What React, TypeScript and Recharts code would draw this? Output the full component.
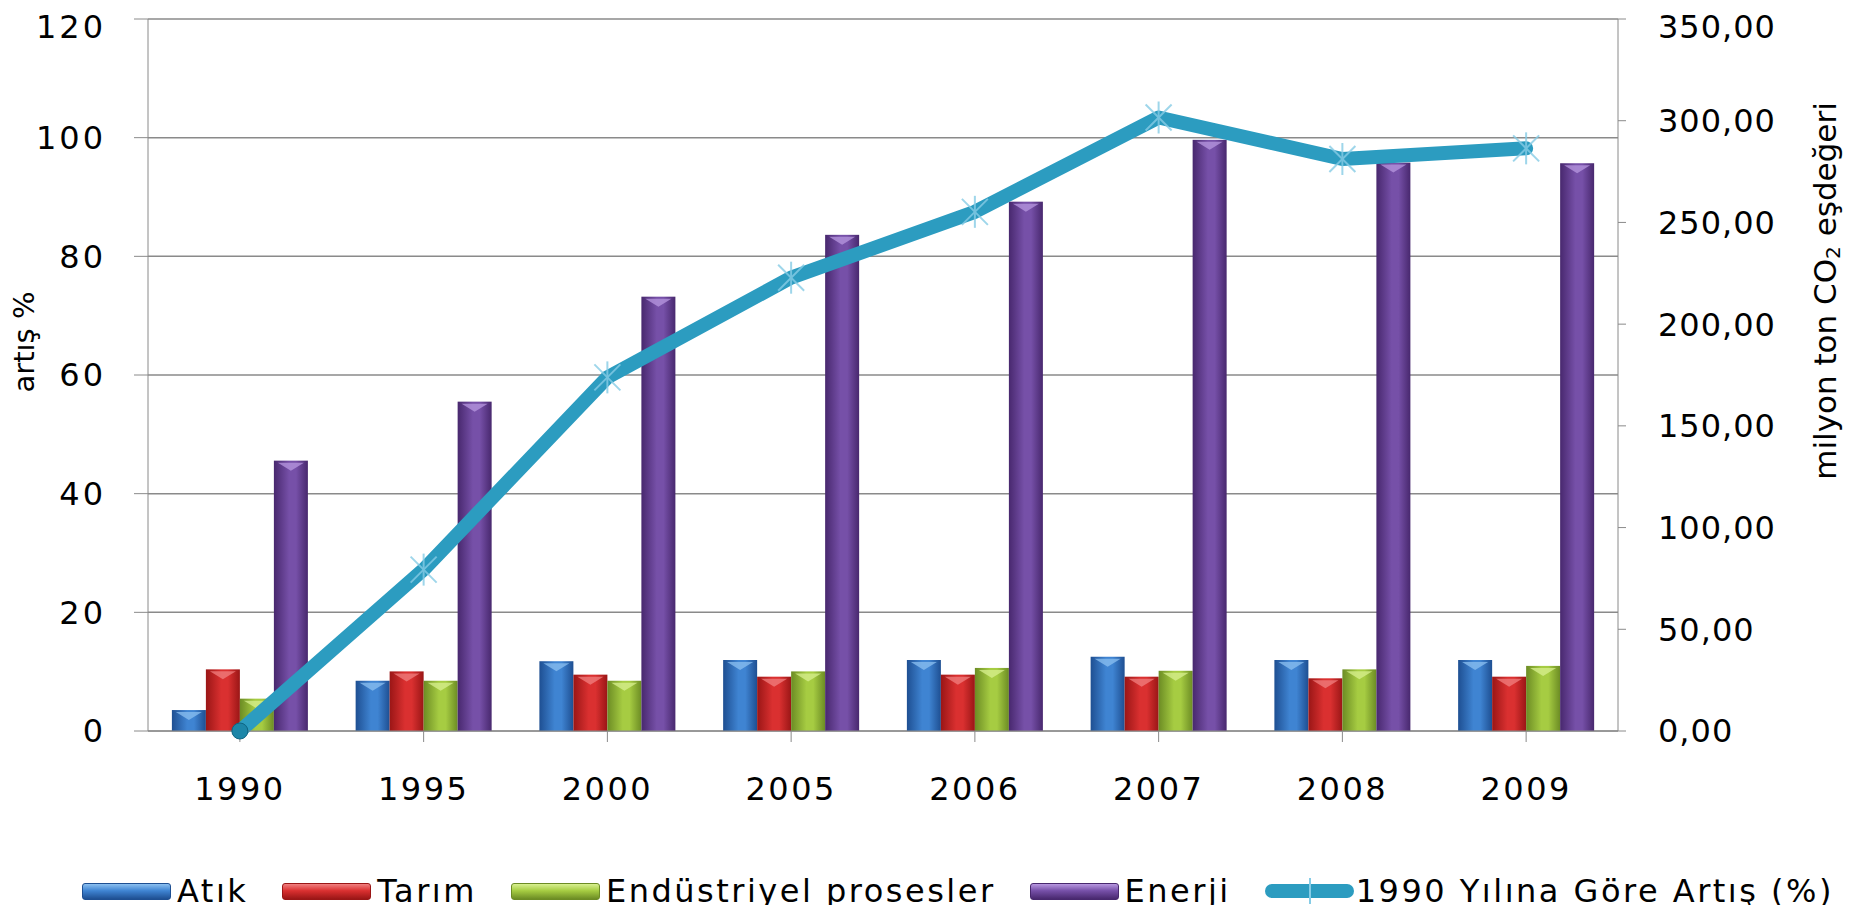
import React from "react";
import { ComposedChart, Bar, Line, XAxis, YAxis, CartesianGrid, Legend, Label } from "recharts";

const years = ["1990", "1995", "2000", "2005", "2006", "2007", "2008", "2009"];
const atik = [10.3, 24.7, 34.3, 34.9, 34.9, 36.5, 34.9, 34.9];
const tarim = [30.3, 29.3, 27.7, 26.7, 27.7, 26.7, 25.9, 26.7];
const endustriyel = [15.9, 24.7, 24.7, 29.3, 31.0, 29.6, 30.3, 32.0];
const enerji = [132.9, 161.9, 213.5, 243.9, 260.2, 290.6, 279.4, 279.1];
const artis = [0, 27.2, 59.6, 76.4, 87.5, 103.4, 96.4, 98.2];

const leftTicks = [0, 20, 40, 60, 80, 100, 120];
const rightTicks = [0, 50, 100, 150, 200, 250, 300, 350];

const legendOrder = ["atik", "tarim", "endustriyel", "enerji", "artis"];

const data = years.map((year, i) => ({
  year,
  atik: atik[i],
  tarim: tarim[i],
  endustriyel: endustriyel[i],
  enerji: enerji[i],
  artis: artis[i],
}));

const FONT = "'DejaVu Sans', sans-serif";
const LINE_COLOR = "#2C9CC0";

// edge, center, highlight
const barColors: Record<string, [string, string, string]> = {
  atik: ["#1E4F92", "#3F84D2", "#8CC0F0"],
  tarim: ["#9A1616", "#DA3030", "#F08080"],
  endustriyel: ["#6C8C24", "#A6CC42", "#D8F090"],
  enerji: ["#48286E", "#7650A8", "#B898E0"],
};

const tickStyle = { fontFamily: FONT, fontSize: 32, fill: "#000" };

const BarShape = (props: any) => {
  const { x, y, width, height, dataKey } = props;
  if (!height || height <= 0) return null;
  const c = barColors[dataKey];
  const bev = Math.min(10, height / 2);
  return (
    <g>
      <rect x={x} y={y} width={width} height={height} fill={`url(#grad-${dataKey})`} />
      <polygon
        points={`${x + 4},${y + 2} ${x + width - 4},${y + 2} ${x + width / 2},${y + bev}`}
        fill={c[2]}
        opacity={0.75}
      />
    </g>
  );
};

const LineDot = (props: any) => {
  const { cx, cy, index } = props;
  if (cx == null || cy == null) return <g key={`d-${index}`} />;
  if (index === 0) {
    return <circle key={`d-${index}`} cx={cx} cy={cy} r={8} fill="#1C86A8" stroke="#0E6582" strokeWidth={1} />;
  }
  const r = 13;
  return (
    <g key={`d-${index}`} stroke="#86CCE6" strokeWidth={2} opacity={0.8}>
      <line x1={cx - r} y1={cy - r} x2={cx + r} y2={cy + r} />
      <line x1={cx - r} y1={cy + r} x2={cx + r} y2={cy - r} />
      <line x1={cx} y1={cy - r - 3} x2={cx} y2={cy + r + 3} />
    </g>
  );
};

const LegendContent = (props: any) => {
  const items = [...(props.payload || [])].sort(
    (a: any, b: any) => legendOrder.indexOf(a.dataKey) - legendOrder.indexOf(b.dataKey)
  );
  return (
    <div
      style={{
        display: "flex",
        justifyContent: "center",
        alignItems: "center",
        height: 28,
        fontFamily: FONT,
        fontSize: 32,
        letterSpacing: 2.5,
        color: "#000",
        whiteSpace: "nowrap",
        marginLeft: 80,
      }}
    >
      {items.map((entry: any) => {
        const key = entry.dataKey as string;
        const c = barColors[key];
        const swatch = c ? (
          <div
            style={{
              width: 89,
              height: 17,
              borderRadius: 3,
              border: `1px solid ${c[0]}`,
              background: `linear-gradient(to bottom, ${c[2]} 0%, ${c[1]} 45%, ${c[0]} 100%)`,
              boxSizing: "border-box",
            }}
          />
        ) : (
          <div style={{ width: 89, height: 14, borderRadius: 7, background: LINE_COLOR, position: "relative" }}>
            <div style={{ position: "absolute", left: 44, top: -6, width: 2, height: 26, background: "#86CCE6" }} />
          </div>
        );
        return (
          <div key={key} style={{ display: "flex", alignItems: "center", marginRight: 34 }}>
            {swatch}
            <span style={{ marginLeft: c ? 6 : 2 }}>{entry.value}</span>
          </div>
        );
      })}
    </div>
  );
};

const LeftTitle = (props: any) => {
  const { viewBox } = props;
  const cx = viewBox.x + 11;
  const cy = 334;
  return (
    <text x={cx} y={cy} transform={`rotate(-90, ${cx}, ${cy})`} textAnchor="middle" dominantBaseline="central" fontFamily={FONT} fontSize={29} fill="#000">
      artış %
    </text>
  );
};

const RightTitle = (props: any) => {
  const { viewBox } = props;
  const cx = viewBox.x + 207;
  const cy = 283;
  return (
    <text x={cx} y={cy} transform={`rotate(-90, ${cx}, ${cy})`} textAnchor="middle" dominantBaseline="central" fontFamily={FONT} fontSize={31} fill="#000">
      milyon ton CO
      <tspan dy={8} fontSize={20}>2</tspan>
      <tspan dy={-8}> eşdeğeri</tspan>
    </text>
  );
};

export default function App() {
  return (
    <ComposedChart
      width={1854}
      height={897}
      data={data}
      margin={{ top: 11, right: 5, bottom: 0, left: 5 }}
      barCategoryGap="13%"
      barGap={0}
    >
      <defs>
        {Object.keys(barColors).map((k) => (
          <linearGradient key={k} id={`grad-${k}`} x1="0" y1="0" x2="1" y2="0">
            <stop offset="0%" stopColor={barColors[k][0]} />
            <stop offset="45%" stopColor={barColors[k][1]} />
            <stop offset="65%" stopColor={barColors[k][1]} />
            <stop offset="100%" stopColor={barColors[k][0]} />
          </linearGradient>
        ))}
      </defs>
      <CartesianGrid yAxisId="left" vertical={false} stroke="#8A8A8A" strokeWidth={1.5} />
      <XAxis
        dataKey="year"
        height={146}
        tickSize={11}
        tickMargin={35}
        stroke="#8A8A8A"
        tick={{ ...tickStyle, letterSpacing: 2.5 }}
      />
      <YAxis
        yAxisId="left"
        orientation="left"
        width={135}
        domain={[0, 120]}
        ticks={leftTicks}
        tickSize={14}
        tickMargin={28}
        stroke="#8A8A8A"
        tick={{ ...tickStyle, letterSpacing: 3 }}
      >
        <Label content={LeftTitle} />
      </YAxis>
      <YAxis
        yAxisId="right"
        orientation="right"
        width={239}
        domain={[0, 350]}
        ticks={rightTicks}
        tickSize={8}
        tickMargin={32}
        stroke="#8A8A8A"
        tickFormatter={(v: number) => v.toFixed(2).replace(".", ",")}
        tick={{ ...tickStyle, letterSpacing: 1, textAnchor: "start" }}
      >
        <Label content={RightTitle} />
      </YAxis>
      <Bar yAxisId="right" dataKey="atik" name="Atık" fill="#3F84D2" shape={BarShape} isAnimationActive={false} />
      <Bar yAxisId="right" dataKey="tarim" name="Tarım" fill="#DA3030" shape={BarShape} isAnimationActive={false} />
      <Bar yAxisId="right" dataKey="endustriyel" name="Endüstriyel prosesler" fill="#A6CC42" shape={BarShape} isAnimationActive={false} />
      <Bar yAxisId="right" dataKey="enerji" name="Enerji" fill="#7650A8" shape={BarShape} isAnimationActive={false} />
      <Line
        yAxisId="left"
        dataKey="artis"
        name="1990 Yılına Göre Artış (%)"
        type="linear"
        stroke={LINE_COLOR}
        strokeWidth={14}
        strokeLinejoin="round"
        strokeLinecap="round"
        dot={LineDot}
        activeDot={false}
        isAnimationActive={false}
      />
      <Legend verticalAlign="bottom" height={28} content={LegendContent} />
    </ComposedChart>
  );
}
